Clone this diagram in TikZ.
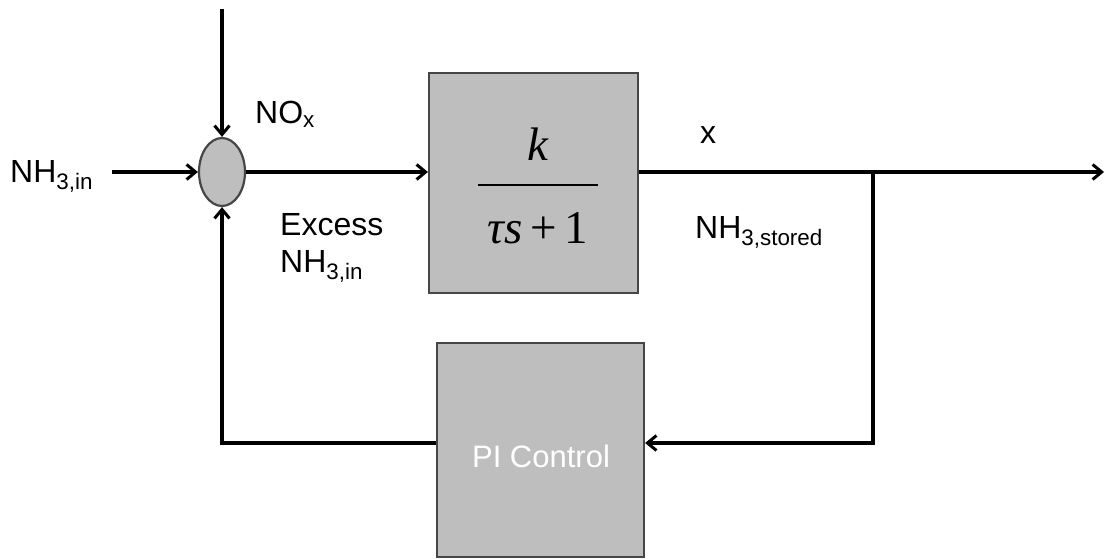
\documentclass[tikz,border=0pt]{standalone}
\usepackage{fontspec}
\setmainfont{Liberation Sans}
\newfontfamily\fracfont{Liberation Serif}
\usetikzlibrary{shapes.geometric,arrows.meta,positioning,calc}
\definecolor{blockgray}{RGB}{190,190,190}
\definecolor{edgegray}{RGB}{70,70,70}

\begin{document}
\begin{tikzpicture}[
  x=1pt, y=-1pt,
  sig/.style={line width=3.2pt, black},
  arr/.style={sig, -{Straight Barb[length=9pt,width=15pt,line width=3pt]}},
  block/.style={
    draw=edgegray,
    line width=2.2pt,
    fill=blockgray,
    inner sep=0pt
  },
  lbl/.style={font=\fontsize{32}{37}\selectfont, inner sep=0pt},
  frac/.style={font=\fracfont\fontsize{47}{50}\selectfont, inner sep=0pt}
]
\useasboundingbox (0,0) rectangle (1105,559);

% -------- Blocks --------
\node[block, ellipse, minimum width=46pt, minimum height=68pt] (sum) at (222,172) {};

\node[block, minimum width=209pt, minimum height=220pt] (plant) at (533.5,183) {};

\node[block, minimum width=207pt, minimum height=214pt] (pi) at (540.5,450) {};
\node[font=\fontsize{31}{34}\selectfont, text=white, anchor=base] (pitext) at (541,467) {PI Control};

% -------- Transfer function --------
\draw[line width=2pt] (478,185) -- (598,185);
\node[frac, anchor=base] (num) at (538,160) {\itshape k};
\node[frac, anchor=base] (den) at (538,243) {\itshape τs\,\upshape+\,1};

% -------- Signal points --------
\coordinate (top) at (222,9);
\coordinate (in) at (112,172);
\coordinate (branch) at (873,172);
\coordinate (out) at (1104,172);
\coordinate (fb) at (873,443);

% -------- Labels --------
\node[lbl, anchor=base west] (nhin) at (10,182) {NH\textsubscript{3,in}};
\node[lbl, anchor=base west] (nox) at (255,124) {NO\textsubscript{x}};
\node[lbl, anchor=base west] (excess) at (280,235) {Excess};
\node[lbl, anchor=base west] (excessnh) at (280,272) {NH\textsubscript{3,in}};
\node[lbl, anchor=base west] (xout) at (700,143) {x};
\node[lbl, anchor=base west] (stored) at (695,238) {NH\textsubscript{3,stored}};

% -------- Connectors --------
\draw[arr] (top) -- (sum.north);
\draw[arr] (in) -- (sum.west);
\draw[arr] (sum.east) -- (sum.east -| plant.west);
\draw[arr] (branch -| plant.east) -- (out);
\draw[arr] (branch) -- (fb) -- (fb -| pi.east);
\draw[arr] (fb -| pi.west) -| (sum.south);

\end{tikzpicture}
\end{document}
